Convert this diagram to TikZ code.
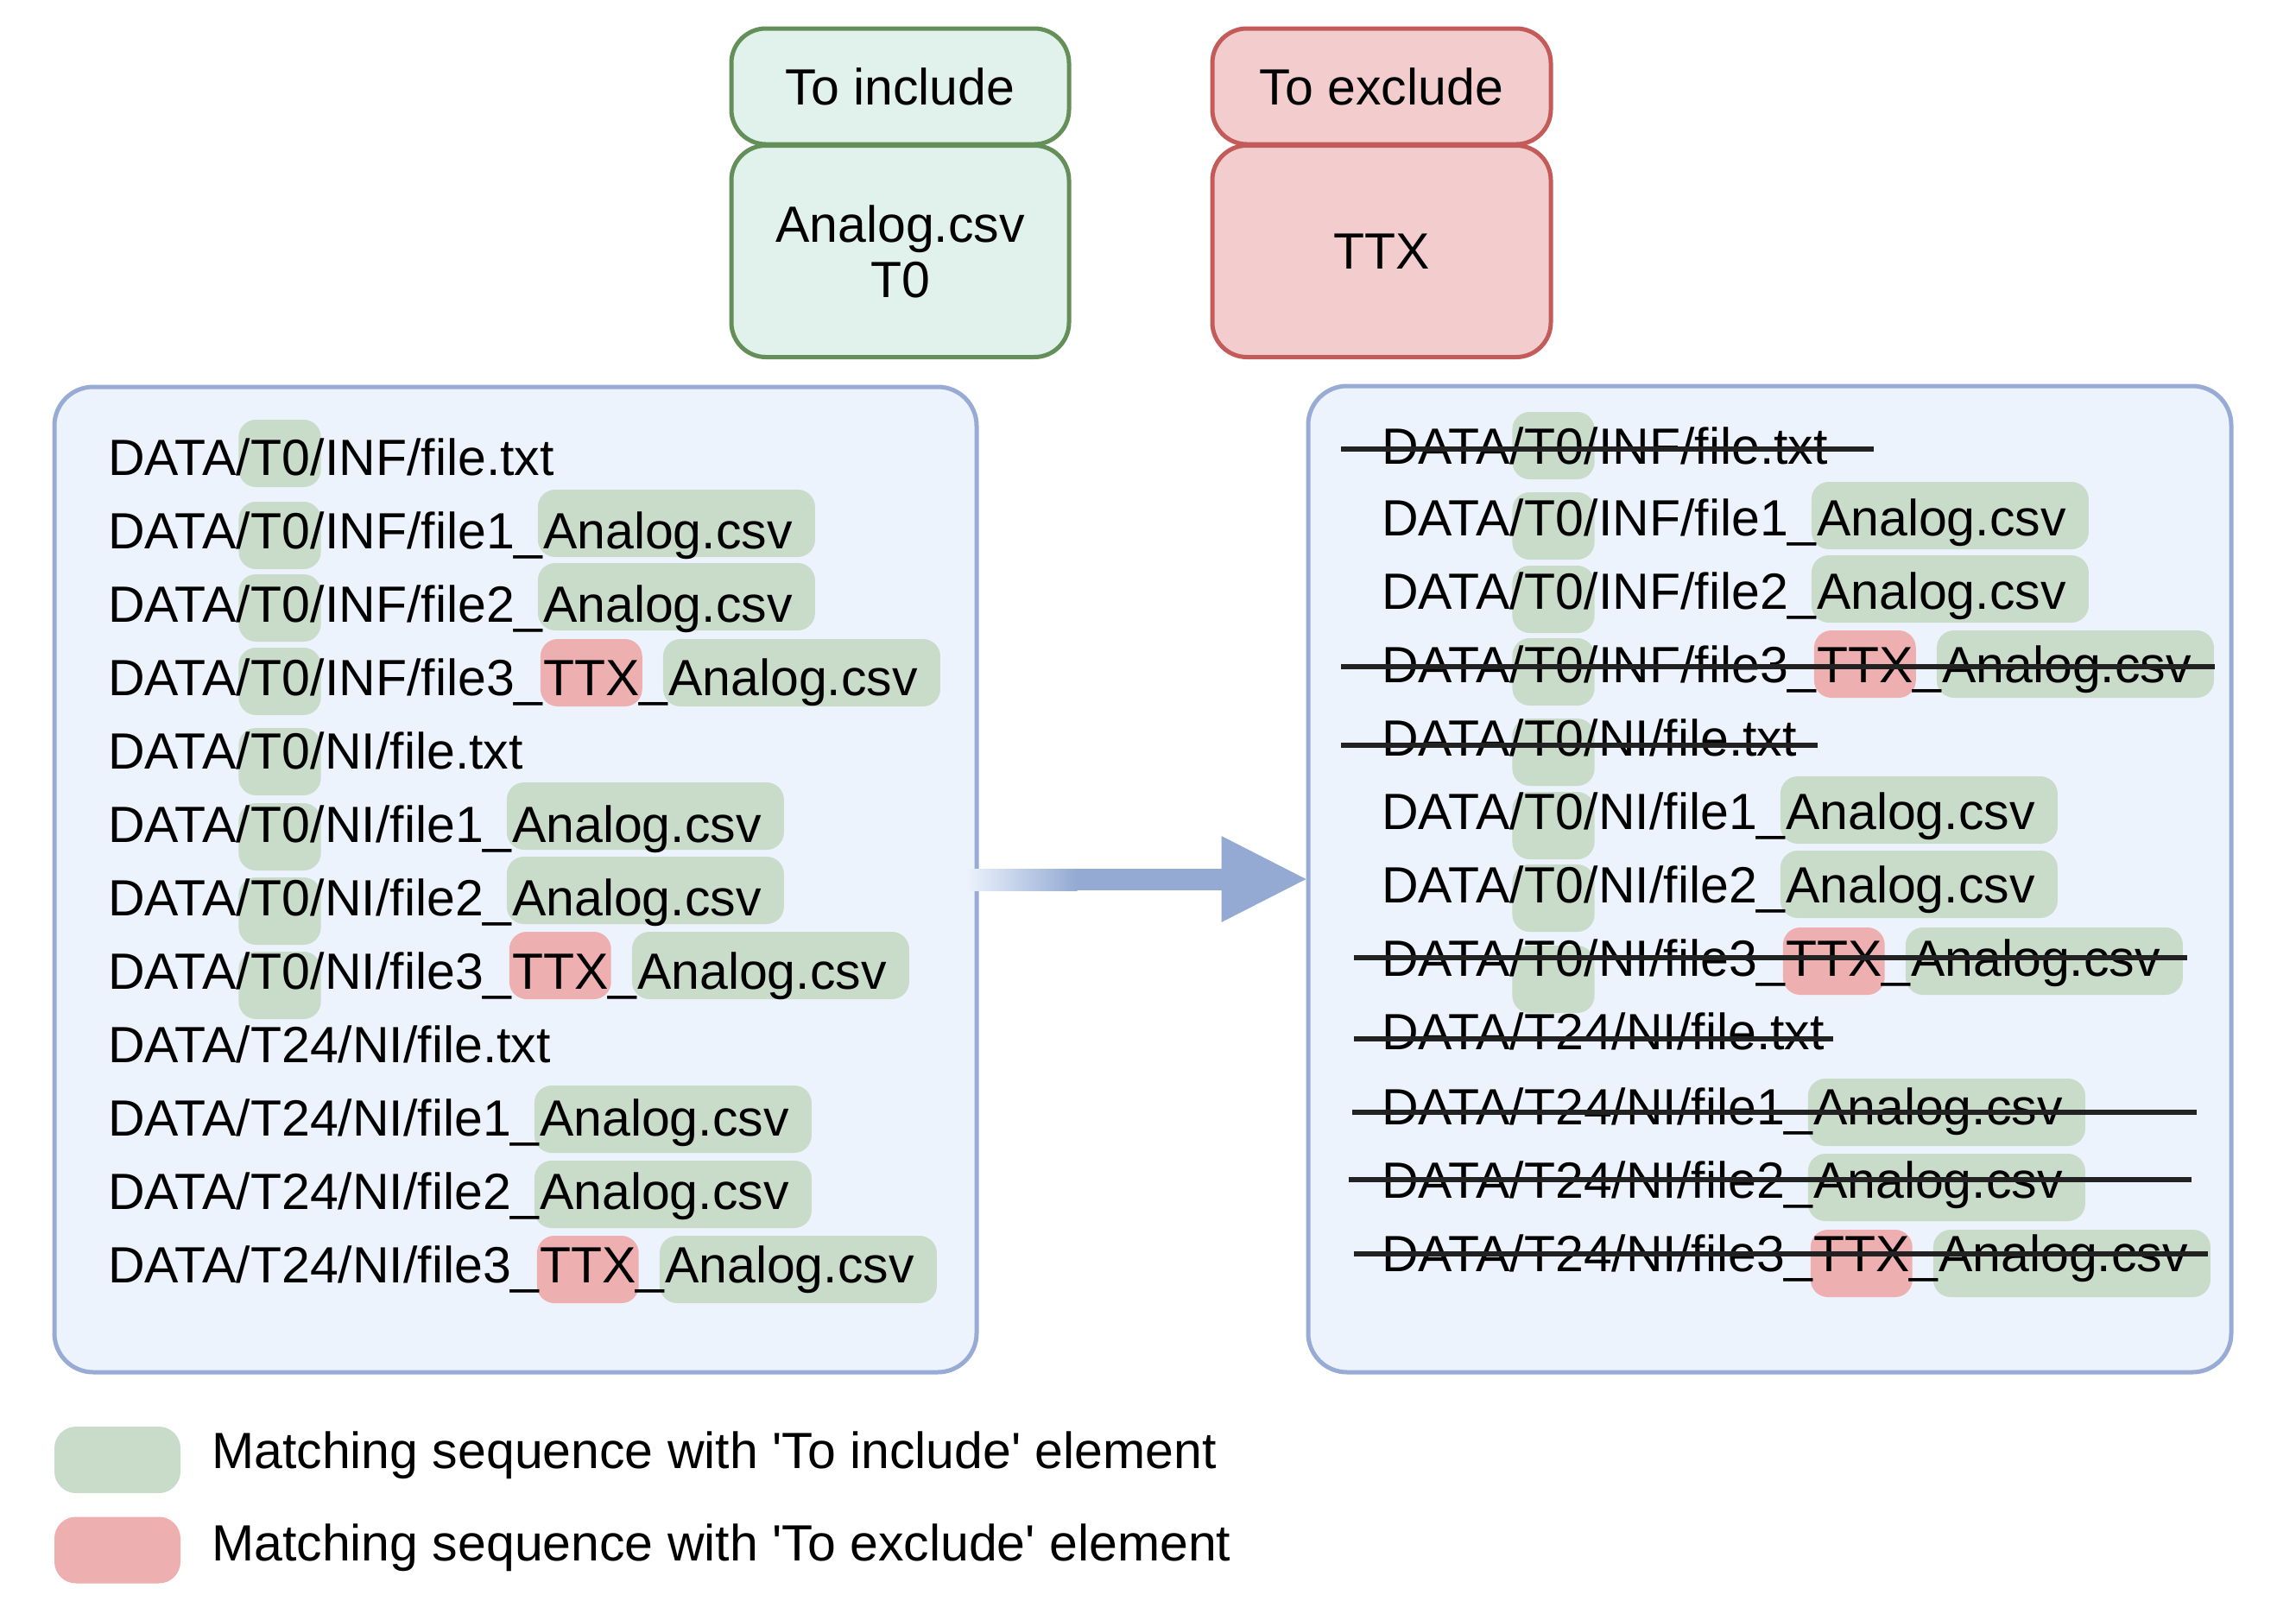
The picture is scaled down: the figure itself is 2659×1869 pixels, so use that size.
\documentclass[tikz,border=0pt]{standalone}
\usepackage{fontspec}
\setmainfont{Liberation Sans}
\usetikzlibrary{calc}
\pgfdeclarelayer{boxes}
\pgfdeclarelayer{hl}
\pgfsetlayers{boxes,hl,main}
\definecolor{incfill}{HTML}{E1F1EC}
\definecolor{incdraw}{HTML}{658F58}
\definecolor{excfill}{HTML}{F3CDCD}
\definecolor{excdraw}{HTML}{C45B5B}
\definecolor{boxfill}{HTML}{EDF3FC}
\definecolor{boxdraw}{HTML}{97ABD5}
\definecolor{hlg}{HTML}{C9DCCA}
\definecolor{hlr}{HTML}{EDAFAF}
\definecolor{arrowc}{HTML}{94AAD3}
\definecolor{strikec}{HTML}{222222}
\newcommand{\bigtxt}{\fontsize{59}{64}\selectfont}
% highlight: node, colour, left pad, right pad, bottom offset below baseline
\newcommand{\hlx}[5]{\fill[#2, rounded corners=20pt] ($(#1.base west)+(-#3,#5)$) rectangle ($(#1.base east)+(#4,#5-78)$);}
% strike: first node, last node, left offset, right offset, height above baseline
\newcommand{\strk}[5]{\draw[strikeline] ($(#1.base west)+(-#3,-#5)$) -- ($(#2.base east)+(#4,-#5)$);}
\begin{document}
\begin{tikzpicture}[x=1pt,y=-1pt,
  txt/.style={anchor=base west, inner sep=0pt, font=\bigtxt},
  bigbox/.style={draw=boxdraw, fill=boxfill, line width=5pt, rounded corners=45pt, inner sep=0pt},
  tbox/.style={line width=5pt, rounded corners=40pt, inner sep=0pt, font=\bigtxt, align=center},
  incbox/.style={tbox, draw=incdraw, fill=incfill},
  excbox/.style={tbox, draw=excdraw, fill=excfill},
  legbox/.style={minimum width=146pt, minimum height=77pt, rounded corners=25pt, inner sep=0pt},
  strikeline/.style={draw=strikec, line width=6pt}]
\useasboundingbox (0,0) rectangle (2659,1869);

% top boxes
\node[incbox, minimum width=391pt, minimum height=134pt] (inctitle) at (1042.5,100) {To include};
\node[incbox, minimum width=391pt, minimum height=245pt] (incitems) at (1042.5,291) {Analog.csv\\T0};
\node[excbox, minimum width=392pt, minimum height=134pt] (exctitle) at (1600,100) {To exclude};
\node[excbox, minimum width=392pt, minimum height=245pt] (excitems) at (1600,291) {TTX};

% big boxes
\begin{pgfonlayer}{boxes}
\node[bigbox, minimum width=1068pt, minimum height=1141pt] (Lbox) at (597,1018.5) {};
\node[bigbox, minimum width=1069pt, minimum height=1142pt] (Rbox) at (2049.5,1018) {};
\end{pgfonlayer}

% ---------- left list ----------
\node[txt] (L1a) at (125,550) {DATA/};
\node[txt] (L1b) at (L1a.base east) {T0};
\node[txt] (L1c) at (L1b.base east) {/INF/file.txt};

\node[txt] (L2a) at (125,635) {DATA/};
\node[txt] (L2b) at (L2a.base east) {T0};
\node[txt] (L2c) at (L2b.base east) {/INF/file1\_};
\node[txt] (L2d) at (L2c.base east) {Analog.csv};

\node[txt] (L3a) at (125,720) {DATA/};
\node[txt] (L3b) at (L3a.base east) {T0};
\node[txt] (L3c) at (L3b.base east) {/INF/file2\_};
\node[txt] (L3d) at (L3c.base east) {Analog.csv};

\node[txt] (L4a) at (125,805) {DATA/};
\node[txt] (L4b) at (L4a.base east) {T0};
\node[txt] (L4c) at (L4b.base east) {/INF/file3\_};
\node[txt] (L4d) at (L4c.base east) {TTX};
\node[txt] (L4e) at (L4d.base east) {\_};
\node[txt] (L4f) at (L4e.base east) {Analog.csv};

\node[txt] (L5a) at (125,890) {DATA/};
\node[txt] (L5b) at (L5a.base east) {T0};
\node[txt] (L5c) at (L5b.base east) {/NI/file.txt};

\node[txt] (L6a) at (125,975) {DATA/};
\node[txt] (L6b) at (L6a.base east) {T0};
\node[txt] (L6c) at (L6b.base east) {/NI/file1\_};
\node[txt] (L6d) at (L6c.base east) {Analog.csv};

\node[txt] (L7a) at (125,1060) {DATA/};
\node[txt] (L7b) at (L7a.base east) {T0};
\node[txt] (L7c) at (L7b.base east) {/NI/file2\_};
\node[txt] (L7d) at (L7c.base east) {Analog.csv};

\node[txt] (L8a) at (125,1145) {DATA/};
\node[txt] (L8b) at (L8a.base east) {T0};
\node[txt] (L8c) at (L8b.base east) {/NI/file3\_};
\node[txt] (L8d) at (L8c.base east) {TTX};
\node[txt] (L8e) at (L8d.base east) {\_};
\node[txt] (L8f) at (L8e.base east) {Analog.csv};

\node[txt] (L9a) at (125,1230) {DATA/T24/NI/file.txt};

\node[txt] (L10a) at (125,1315) {DATA/T24/NI/file1\_};
\node[txt] (L10b) at (L10a.base east) {Analog.csv};

\node[txt] (L11a) at (125,1400) {DATA/T24/NI/file2\_};
\node[txt] (L11b) at (L11a.base east) {Analog.csv};

\node[txt] (L12a) at (125,1485) {DATA/T24/NI/file3\_};
\node[txt] (L12b) at (L12a.base east) {TTX};
\node[txt] (L12c) at (L12b.base east) {\_};
\node[txt] (L12d) at (L12c.base east) {Analog.csv};

% ---------- right list ----------
\node[txt] (R1a) at (1600,537) {DATA/};
\node[txt] (R1b) at (R1a.base east) {T0};
\node[txt] (R1c) at (R1b.base east) {/INF/file.txt};

\node[txt] (R2a) at (1600,620) {DATA/};
\node[txt] (R2b) at (R2a.base east) {T0};
\node[txt] (R2c) at (R2b.base east) {/INF/file1\_};
\node[txt] (R2d) at (R2c.base east) {Analog.csv};

\node[txt] (R3a) at (1600,705) {DATA/};
\node[txt] (R3b) at (R3a.base east) {T0};
\node[txt] (R3c) at (R3b.base east) {/INF/file2\_};
\node[txt] (R3d) at (R3c.base east) {Analog.csv};

\node[txt] (R4a) at (1600,790) {DATA/};
\node[txt] (R4b) at (R4a.base east) {T0};
\node[txt] (R4c) at (R4b.base east) {/INF/file3\_};
\node[txt] (R4d) at (R4c.base east) {TTX};
\node[txt] (R4e) at (R4d.base east) {\_};
\node[txt] (R4f) at (R4e.base east) {Analog.csv};

\node[txt] (R5a) at (1600,875) {DATA/};
\node[txt] (R5b) at (R5a.base east) {T0};
\node[txt] (R5c) at (R5b.base east) {/NI/file.txt};

\node[txt] (R6a) at (1600,960) {DATA/};
\node[txt] (R6b) at (R6a.base east) {T0};
\node[txt] (R6c) at (R6b.base east) {/NI/file1\_};
\node[txt] (R6d) at (R6c.base east) {Analog.csv};

\node[txt] (R7a) at (1600,1045) {DATA/};
\node[txt] (R7b) at (R7a.base east) {T0};
\node[txt] (R7c) at (R7b.base east) {/NI/file2\_};
\node[txt] (R7d) at (R7c.base east) {Analog.csv};

\node[txt] (R8a) at (1600,1130) {DATA/};
\node[txt] (R8b) at (R8a.base east) {T0};
\node[txt] (R8c) at (R8b.base east) {/NI/file3\_};
\node[txt] (R8d) at (R8c.base east) {TTX};
\node[txt] (R8e) at (R8d.base east) {\_};
\node[txt] (R8f) at (R8e.base east) {Analog.csv};

\node[txt] (R9a) at (1600,1215) {DATA/T24/NI/file.txt};

\node[txt] (R10a) at (1600,1302) {DATA/T24/NI/file1\_};
\node[txt] (R10b) at (R10a.base east) {Analog.csv};

\node[txt] (R11a) at (1600,1387) {DATA/T24/NI/file2\_};
\node[txt] (R11b) at (R11a.base east) {Analog.csv};

\node[txt] (R12a) at (1600,1472) {DATA/T24/NI/file3\_};
\node[txt] (R12b) at (R12a.base east) {TTX};
\node[txt] (R12c) at (R12b.base east) {\_};
\node[txt] (R12d) at (R12c.base east) {Analog.csv};

% ---------- highlights ----------
\begin{pgfonlayer}{hl}
\hlx{L1b}{hlg}{14}{12}{14}
\hlx{L2b}{hlg}{14}{12}{24} \hlx{L2d}{hlg}{6}{26}{10}
\hlx{L3b}{hlg}{14}{12}{23} \hlx{L3d}{hlg}{6}{26}{10}
\hlx{L4b}{hlg}{14}{12}{23} \hlx{L4d}{hlr}{3}{3}{13} \hlx{L4f}{hlg}{6}{26}{13}
\hlx{L5b}{hlg}{14}{12}{31}
\hlx{L6b}{hlg}{14}{12}{33} \hlx{L6d}{hlg}{6}{26}{9}
\hlx{L7b}{hlg}{14}{12}{34} \hlx{L7d}{hlg}{6}{26}{10}
\hlx{L8b}{hlg}{14}{12}{35} \hlx{L8d}{hlr}{3}{3}{12} \hlx{L8f}{hlg}{6}{26}{12}
\hlx{L10b}{hlg}{6}{26}{20}
\hlx{L11b}{hlg}{6}{26}{22}
\hlx{L12b}{hlr}{3}{3}{24} \hlx{L12d}{hlg}{6}{26}{24}

\hlx{R1b}{hlg}{14}{12}{18}
\hlx{R2b}{hlg}{14}{12}{28} \hlx{R2d}{hlg}{6}{26}{16}
\hlx{R3b}{hlg}{14}{12}{28} \hlx{R3d}{hlg}{6}{26}{16}
\hlx{R4b}{hlg}{14}{12}{27} \hlx{R4d}{hlr}{3}{3}{18} \hlx{R4f}{hlg}{6}{26}{18}
\hlx{R5b}{hlg}{14}{12}{35}
\hlx{R6b}{hlg}{14}{12}{35} \hlx{R6d}{hlg}{6}{26}{17}
\hlx{R7b}{hlg}{14}{12}{34} \hlx{R7d}{hlg}{6}{26}{18}
\hlx{R8b}{hlg}{14}{12}{43} \hlx{R8d}{hlr}{3}{3}{22} \hlx{R8f}{hlg}{6}{26}{22}
\hlx{R10b}{hlg}{6}{26}{25}
\hlx{R11b}{hlg}{6}{26}{27}
\hlx{R12b}{hlr}{3}{3}{30} \hlx{R12d}{hlg}{6}{26}{30}
\end{pgfonlayer}

% ---------- strike-throughs ----------
\strk{R1a}{R1c}{47}{53}{17}
\strk{R4a}{R4f}{47}{27}{18}
\strk{R5a}{R5c}{47}{24}{12}
\strk{R8a}{R8f}{32}{31}{21}
\strk{R9a}{R9a}{32}{10}{12}
\strk{R10a}{R10b}{34}{155}{14}
\strk{R11a}{R11b}{38}{149}{21}
\strk{R12a}{R12d}{32}{23}{20}

% ---------- arrow ----------
\coordinate (tail) at ($(Lbox.east)+(-16,0)$);
\coordinate (tip) at (Rbox.west);
\shade[left color=boxfill, right color=arrowc] ($(tail)+(0,-12.5)$) rectangle ($(tail)+(130,12.5)$);
\fill[arrowc] ($(tail)+(129,-12.5)$) rectangle ($(tip)+(-97,12.5)$);
\fill[arrowc] ($(tip)+(-98,-50)$) -- (tip) -- ($(tip)+(-98,50)$) -- cycle;

% ---------- legend ----------
\node[legbox, fill=hlg] (leg1) at (136,1690.5) {};
\node[legbox, fill=hlr] (leg2) at (136,1795) {};
\node[txt] (legt1) at (245,1700) {Matching sequence with \textquotesingle To include\textquotesingle{} element};
\node[txt] (legt2) at (245,1807) {Matching sequence with \textquotesingle To exclude\textquotesingle{} element};
\end{tikzpicture}
\end{document}
